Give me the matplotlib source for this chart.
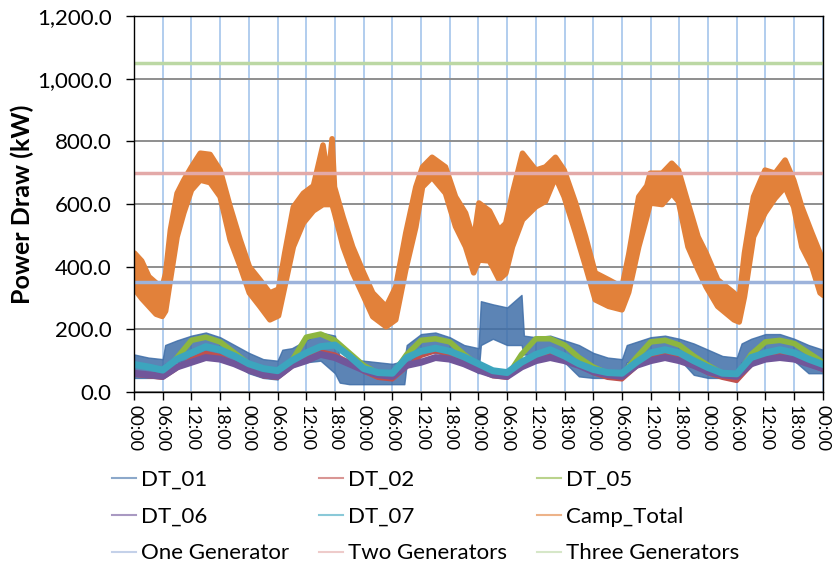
import numpy as np
import matplotlib
matplotlib.use("Agg")
import matplotlib.pyplot as plt
from matplotlib.lines import Line2D

plt.rcParams['font.family'] = ['Lato', 'DejaVu Sans']

# hours since start, 6 days
hours3 = np.arange(0, 145, 3)

dt02 = [55, 50, 45, 75, 105, 125, 115, 90, 70, 50, 45, 80, 110, 130, 120, 95, 65, 45, 40, 80,
        115, 130, 120, 95, 70, 50, 45, 85, 115, 125, 110, 85, 60, 45, 40, 80, 115, 125, 110, 85,
        60, 45, 35, 85, 115, 125, 115, 90, 70]
dt05 = [60, 55, 50, 110, 165, 175, 160, 125, 90, 65, 55, 100, 175, 185, 165, 125, 85, 60, 55, 120,
        165, 170, 160, 120, 85, 55, 50, 120, 170, 170, 150, 110, 80, 60, 55, 110, 160, 165, 150, 115,
        85, 60, 50, 120, 160, 165, 155, 125, 95]
dt06 = [60, 55, 50, 80, 95, 110, 105, 90, 70, 55, 50, 85, 100, 120, 110, 90, 70, 55, 50, 85,
        95, 110, 105, 90, 70, 55, 50, 80, 100, 110, 100, 85, 65, 55, 50, 85, 100, 110, 100, 85,
        65, 55, 50, 90, 105, 110, 105, 90, 75]
dt07 = [88, 80, 70, 105, 125, 145, 135, 115, 90, 75, 68, 100, 125, 145, 150, 115, 75, 62, 60, 110,
        130, 140, 130, 112, 90, 68, 62, 95, 120, 135, 115, 90, 72, 62, 60, 95, 125, 135, 125, 100,
        78, 60, 58, 110, 125, 135, 125, 105, 88]

# DT_01 is very noisy: lower / upper envelope
dt01_t = [0, 3, 6, 6.5, 9, 12, 15, 18, 21, 24, 27, 30, 31, 33, 36, 39, 42, 43, 45, 48, 51, 54,
          56.5, 57, 60, 63, 66, 69, 72, 72.5, 75, 78, 81, 81.5, 84, 87, 90, 93, 96, 99, 102, 103,
          105, 108, 111, 114, 117, 120, 123, 126, 127, 129, 132, 135, 138, 141, 144]
dt01_lo = [45, 45, 45, 90, 95, 105, 115, 110, 90, 60, 45, 40, 85, 90, 95, 100, 60, 30, 25, 25, 25, 25,
           25, 90, 125, 125, 115, 95, 60, 150, 170, 150, 150, 120, 115, 120, 95, 50, 45, 45, 45, 95,
           100, 110, 110, 105, 55, 45, 45, 45, 95, 100, 110, 110, 100, 60, 60]
dt01_hi = [120, 110, 105, 150, 165, 180, 190, 175, 150, 125, 105, 100, 135, 140, 165, 190, 180, 110, 105, 100, 95, 90,
           100, 150, 185, 190, 175, 150, 140, 290, 280, 270, 310, 180, 175, 180, 165, 150, 125, 110, 105, 150,
           160, 175, 180, 170, 155, 135, 115, 110, 155, 170, 185, 185, 170, 150, 135]

# Camp_Total envelope
camp_t = [0, 1.5, 3, 4.5, 5.8, 6.5, 7.5, 8.9, 10.3, 11.9, 13.75, 15.8, 17.9, 20, 22.1, 24, 26.2, 28.3,
          30.1, 31.4, 33.2, 35.3, 37.4, 39.4, 40.5, 41.3, 41.8, 43.6, 45.6, 47.9, 49.8, 52.6, 54.6,
          56.7, 58.8, 60.2, 62.2, 65, 67.1, 69.2, 70.9, 72, 74.2, 76.2, 77.6, 79, 81.1, 83.9, 85.9,
          88, 89.8, 92.2, 94.3, 96.3, 99.1, 101.9, 103.3, 105.4, 107.1, 107.8, 110.3, 112.3, 113.7,
          115.7, 117.8, 119.5, 121.9, 125.3, 126.4, 127.5, 129.4, 131.8, 133.9, 136, 137.8, 139.5,
          141.6, 143.3, 144]
camp_lo = [330, 300, 275, 250, 243, 260, 360, 497, 573, 646, 678, 670, 625, 487, 402, 318, 275, 232,
           245, 337, 465, 541, 580, 600, 600, 600, 573, 465, 382, 306, 242, 210, 232,
           392, 528, 656, 687, 636, 530, 465, 382, 423, 420, 360, 380, 465, 551, 593, 610,
           687, 625, 509, 402, 296, 275, 264, 320, 465, 560, 605, 600, 636, 610,
           465, 392, 337, 275, 232, 225, 306, 497, 573, 620, 656, 592, 465,
           402, 318, 310]
camp_hi = [445, 420, 370, 350, 338, 380, 519, 636, 678, 720, 764, 760, 710, 593, 487, 402, 360, 318,
           330, 445, 592, 636, 660, 790, 680, 810, 656, 560, 465, 382, 318, 274, 337,
           509, 656, 720, 751, 720, 625, 573, 487, 605, 580, 519, 540, 636, 764, 710, 720,
           751, 710, 605, 497, 382, 360, 337, 440, 625, 660, 700, 700, 732, 710,
           605, 497, 445, 360, 318, 300, 445, 625, 710, 700, 742, 678, 592,
           509, 445, 420]

gen_levels = [350, 700, 1050]
gen_names = ['One Generator', 'Two Generators', 'Three Generators']

xtick_labels = ['00:00', '06:00', '12:00', '18:00'] * 6 + ['00:00']

fig = plt.figure(figsize=(8.35, 5.67), dpi=100)
ax = fig.add_axes([0.1605, 0.3086, 0.825, 0.663])

c01, c02, c05, c06, c07 = '#3F6EA8', '#C0504D', '#8DB63F', '#71569A', '#3CA5BE'
ccamp = '#E2813A'

ax.fill_between(dt01_t, dt01_lo, dt01_hi, color=c01, lw=1, alpha=0.85)
l02, = ax.plot(hours3, dt02, color=c02, lw=3, label='DT_02')
l05, = ax.plot(hours3, dt05, color=c05, lw=4, label='DT_05')
l06, = ax.plot(hours3, dt06, color=c06, lw=5, label='DT_06')
l07, = ax.plot(hours3, dt07, color=c07, lw=5, label='DT_07')
ax.fill_between(camp_t, camp_lo, camp_hi, facecolor=ccamp, edgecolor=ccamp, lw=4)

gen_cols = ['#9DB3DB', '#E3A9A8', '#BCD8A4']
gl = []
for lev, nm, col in zip(gen_levels, gen_names, gen_cols):
    h, = ax.plot([0, 144], [lev, lev], color=col, lw=2.5, label=nm)
    gl.append(h)

ax.set_xlim(0, 144)
ax.set_ylim(0, 1200)
ax.set_yticks(np.arange(0, 1201, 200))
ax.set_yticklabels([f'{v:,.1f}' for v in np.arange(0, 1201, 200)], fontsize=16)
ax.set_xticks(np.arange(0, 145, 6))
ax.set_xticklabels(xtick_labels, rotation=-90, fontsize=13)
ax.tick_params(axis='both', direction='out', length=6, width=1, color='black')
ax.tick_params(axis='y', pad=10)
ax.set_ylabel('Power Draw (kW)', fontsize=18, fontweight='bold', labelpad=2)

ax.grid(axis='y', color='#8E8E8E', lw=1.4)
ax.grid(axis='x', color='#9DC0EA', lw=1.1)
ax.set_axisbelow(True)
for s in ax.spines.values():
    s.set_color('black')
    s.set_linewidth(1)

l01 = Line2D([], [], color=c01, label='DT_01')
lcamp = Line2D([], [], color=ccamp, label='Camp_Total')
handles = [l01, l06, gl[0], l02, l07, gl[1], l05, lcamp, gl[2]]
leg = fig.legend(handles, [h.get_label() for h in handles], ncol=3, loc='upper left',
                 bbox_to_anchor=(112 / 835, 1 - 470 / 567), frameon=False, fontsize=16,
                 borderpad=0, borderaxespad=0,
                 handlelength=1.1, handletextpad=0.2, columnspacing=1.35, labelspacing=0.75)
for lh in leg.get_lines():
    lh.set_linewidth(1.5)
    lh.set_alpha(0.6)

fig.savefig('out.png', dpi=100)
